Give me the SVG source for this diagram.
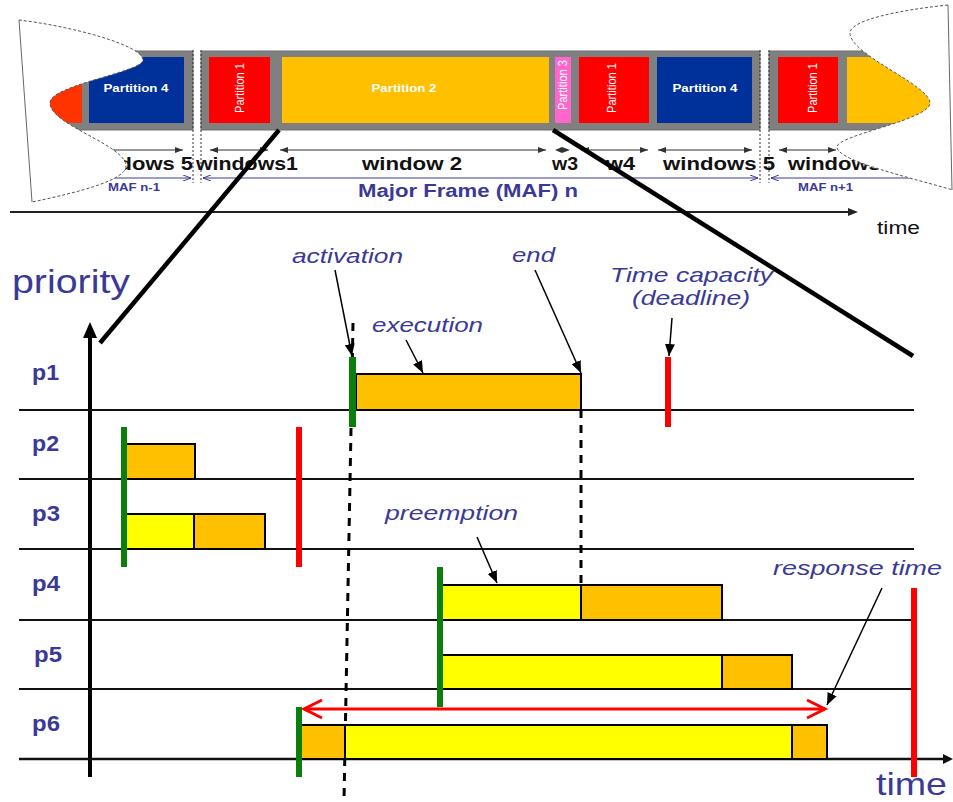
<svg xmlns="http://www.w3.org/2000/svg" width="953" height="802" viewBox="0 0 953 802">
<defs>
<style>
.gray{fill:#808080;stroke:#6e6e6e;stroke-width:1}
.plab{font-family:"Liberation Sans",Arial,sans-serif;font-weight:bold;font-size:11px;fill:#ffffff}
.plabr{font-family:"Liberation Sans",Arial,sans-serif;font-size:12px;fill:#ffffff}
.win{font-family:"Liberation Sans",Arial,sans-serif;font-weight:bold;font-size:19px;fill:#111111}
.maf{font-family:"Liberation Sans",Arial,sans-serif;font-weight:bold;fill:#3a3a96}
.warr{stroke:#333333;stroke-width:1.2;fill:none}
.marr{stroke:#3a3a96;stroke-width:1;fill:none}
.dot{stroke:#333333;stroke-width:1;stroke-dasharray:2,2}
.cut{fill:#ffffff;stroke:none}
.cutl{fill:none;stroke:#555555;stroke-width:1;stroke-dasharray:3,2}
.row{stroke:#111111;stroke-width:2}
.bar{stroke:#000000;stroke-width:2}
.or{fill:#FFC000}
.ye{fill:#FFFF00}
.gr{fill:#0a800a}
.rd{fill:#ff0000}
.pl{font-family:"Liberation Sans",Arial,sans-serif;font-weight:bold;font-size:22px;fill:#3a3a96}
.ann{font-family:"Liberation Sans",Arial,sans-serif;font-style:italic;font-size:21px;fill:#3a3a96}
.aarr{stroke:#000000;stroke-width:1.5;fill:none}
.dash{stroke:#000000;stroke-width:3;stroke-dasharray:8,7;fill:none}
.diag{stroke:#000000;stroke-width:4.5;fill:none}
</style>
<marker id="wh" markerWidth="8" markerHeight="6" refX="8" refY="3" orient="auto-start-reverse" markerUnits="userSpaceOnUse"><path d="M0,0 L8,3 L0,6 Z" fill="#333333"/></marker>
<marker id="mh" markerWidth="8" markerHeight="6" refX="8" refY="3" orient="auto-start-reverse" markerUnits="userSpaceOnUse"><path d="M0,0 L8,3 L0,6" fill="none" stroke="#3a3a96" stroke-width="1"/></marker>
<marker id="ah" markerWidth="12" markerHeight="10" refX="12" refY="5" orient="auto" markerUnits="userSpaceOnUse"><path d="M0,0 L12,5 L0,10 Z" fill="#000000"/></marker>
</defs>
<rect width="953" height="802" fill="#ffffff"/>

<g id="frame-band">
<rect class="gray" x="40" y="51" width="153" height="79"/>
<rect class="gray" x="201" y="51" width="559" height="79"/>
<rect class="gray" x="769" y="51" width="175" height="79"/>
</g>
<g id="part-prev-1"><rect x="40" y="57" width="42" height="66" fill="#ff3300"/></g>
<g id="part-prev-4"><rect x="89" y="57" width="95" height="66" fill="#00309a"/><text class="plab" x="136" y="92" text-anchor="middle" textLength="65" lengthAdjust="spacingAndGlyphs">Partition 4</text></g>
<g id="part-1a"><rect x="209" y="57" width="61" height="66" fill="#ff0000"/><text class="plabr" transform="translate(244,88) rotate(-90)" text-anchor="middle" textLength="50" lengthAdjust="spacingAndGlyphs">Partition 1</text></g>
<g id="part-2"><rect x="282" y="57" width="267" height="66" fill="#FFC000"/><text class="plab" x="404" y="92" text-anchor="middle" textLength="65" lengthAdjust="spacingAndGlyphs" fill="#fffbe0">Partition 2</text></g>
<g id="part-3"><rect x="555" y="57" width="16" height="66" fill="#ff66cc"/><text class="plabr" transform="translate(567,85) rotate(-90)" text-anchor="middle" textLength="50" lengthAdjust="spacingAndGlyphs">Partition 3</text></g>
<g id="part-1b"><rect x="579" y="57" width="70" height="66" fill="#ff0000"/><text class="plabr" transform="translate(616,88) rotate(-90)" text-anchor="middle" textLength="50" lengthAdjust="spacingAndGlyphs">Partition 1</text></g>
<g id="part-4"><rect x="657" y="57" width="95" height="66" fill="#00309a"/><text class="plab" x="705" y="92" text-anchor="middle" textLength="65" lengthAdjust="spacingAndGlyphs">Partition 4</text></g>
<g id="part-1c"><rect x="778" y="57" width="60" height="66" fill="#ff0000"/><text class="plabr" transform="translate(817,88) rotate(-90)" text-anchor="middle" textLength="50" lengthAdjust="spacingAndGlyphs">Partition 1</text></g>
<g id="part-next-2"><rect x="847" y="57" width="93" height="66" fill="#FFC000"/></g>

<g id="separators">
<line class="dot" x1="193" y1="50" x2="193" y2="183"/>
<line class="dot" x1="201" y1="50" x2="201" y2="183"/>
<line class="dot" x1="760" y1="50" x2="760" y2="183"/>
<line class="dot" x1="769" y1="50" x2="769" y2="183"/>
</g>

<g id="window-arrows">
<line class="warr" x1="100" y1="150" x2="183" y2="150" marker-end="url(#wh)"/>
<line class="warr" x1="210" y1="150" x2="268" y2="150" marker-start="url(#wh)" marker-end="url(#wh)"/>
<line class="warr" x1="280" y1="150" x2="546" y2="150" marker-start="url(#wh)" marker-end="url(#wh)"/>
<path d="M555,150 L562,147 L570,150 L562,153 Z" fill="#333333"/>
<line class="warr" x1="581" y1="150" x2="648" y2="150" marker-start="url(#wh)" marker-end="url(#wh)"/>
<line class="warr" x1="658" y1="150" x2="752" y2="150" marker-start="url(#wh)" marker-end="url(#wh)"/>
<line class="warr" x1="779" y1="150" x2="836" y2="150" marker-start="url(#wh)" marker-end="url(#wh)"/>
</g>
<g id="window-labels">
<text class="win" x="193" y="170" text-anchor="end" textLength="111" lengthAdjust="spacingAndGlyphs">windows 5</text>
<text class="win" x="196" y="170" textLength="102" lengthAdjust="spacingAndGlyphs">windows1</text>
<text class="win" x="362" y="170" textLength="100" lengthAdjust="spacingAndGlyphs">window 2</text>
<text class="win" x="552" y="170" textLength="26" lengthAdjust="spacingAndGlyphs">w3</text>
<text class="win" x="606" y="170" textLength="29" lengthAdjust="spacingAndGlyphs">w4</text>
<text class="win" x="663" y="170" textLength="112" lengthAdjust="spacingAndGlyphs">windows 5</text>
<text class="win" x="788" y="170" textLength="105" lengthAdjust="spacingAndGlyphs">windows1</text>
</g>
<g id="maf">
<line class="marr" x1="100" y1="178" x2="191" y2="178" marker-end="url(#mh)"/>
<line class="marr" x1="203" y1="178" x2="758" y2="178" marker-start="url(#mh)" marker-end="url(#mh)"/>
<line class="marr" x1="771" y1="178" x2="910" y2="178" marker-start="url(#mh)"/>
<text class="maf" x="108" y="191" font-size="10" textLength="52" lengthAdjust="spacingAndGlyphs">MAF n-1</text>
<text class="maf" x="358" y="197" font-size="18" textLength="220" lengthAdjust="spacingAndGlyphs">Major Frame (MAF) n</text>
<text class="maf" x="798" y="191" font-size="10" textLength="55" lengthAdjust="spacingAndGlyphs">MAF n+1</text>
</g>

<g id="cut-left">
<path class="cut" d="M19,20 C70,26 143,45 143,60 C143,72 50,85 50,103 C50,125 126,145 126,166 C126,180 80,192 32,202 Z"/>
<path class="cutl" d="M19,20 C70,26 143,45 143,60 C143,72 50,85 50,103 C50,125 126,145 126,166 C126,180 80,192 32,202"/>
<line x1="19" y1="20" x2="32" y2="202" stroke="#666666" stroke-width="1"/>
</g>
<g id="cut-right">
<path class="cut" d="M948,5 C900,10 850,20 850,33 C850,55 930,85 930,103 C930,120 837,135 837,147 C837,160 900,175 953,190 L953,5 Z"/>
<path class="cutl" d="M948,5 C900,10 850,20 850,33 C850,55 930,85 930,103 C930,120 837,135 837,147 C837,160 900,175 953,190"/>
<line x1="948" y1="5" x2="952" y2="190" stroke="#666666" stroke-width="1"/>
</g>

<g id="time-axis-top">
<line x1="10" y1="212" x2="850" y2="212" stroke="#222222" stroke-width="2"/>
<path d="M858,212 L848,208 L848,216 Z" fill="#222222"/>
<text x="877" y="234" font-family="Liberation Sans,Arial,sans-serif" font-size="18" fill="#111111" textLength="43" lengthAdjust="spacingAndGlyphs">time</text>
</g>

<g id="connectors">
<line class="diag" x1="279" y1="130" x2="100" y2="343"/>
<line class="diag" x1="553" y1="130" x2="913" y2="356"/>
</g>

<g id="priority-axis">
<text x="12" y="293" font-family="Liberation Sans,Arial,sans-serif" font-size="34" fill="#3a3a96" textLength="118" lengthAdjust="spacingAndGlyphs">priority</text>
<line x1="90" y1="334" x2="90" y2="777" stroke="#000000" stroke-width="4"/>
<path d="M90,322 L83,338 L97,338 Z" fill="#000000"/>
</g>

<g id="rows">
<line class="row" x1="19" y1="410" x2="914" y2="410"/>
<line class="row" x1="19" y1="479" x2="914" y2="479"/>
<line class="row" x1="19" y1="549" x2="914" y2="549"/>
<line class="row" x1="19" y1="620" x2="914" y2="620"/>
<line class="row" x1="19" y1="689" x2="914" y2="689"/>
<line x1="19" y1="759" x2="945" y2="759" stroke="#111111" stroke-width="2.5"/>
<path d="M953,759 L943,754 L943,764 Z" fill="#111111"/>
<text class="pl" x="32" y="380" textLength="27" lengthAdjust="spacingAndGlyphs">p1</text>
<text class="pl" x="32" y="451" textLength="27" lengthAdjust="spacingAndGlyphs">p2</text>
<text class="pl" x="32" y="521" textLength="28" lengthAdjust="spacingAndGlyphs">p3</text>
<text class="pl" x="32" y="591" textLength="28" lengthAdjust="spacingAndGlyphs">p4</text>
<text class="pl" x="34" y="662" textLength="28" lengthAdjust="spacingAndGlyphs">p5</text>
<text class="pl" x="32" y="731" textLength="28" lengthAdjust="spacingAndGlyphs">p6</text>
<text x="876" y="795" font-family="Liberation Sans,Arial,sans-serif" font-size="32" fill="#3a3a96" textLength="71" lengthAdjust="spacingAndGlyphs">time</text>
</g>

<g id="dashed-guides">
<line class="dash" x1="353" y1="323" x2="344" y2="800"/>
<line class="dash" x1="581" y1="410" x2="581" y2="585"/>
</g>

<g id="task-p1"><rect class="bar or" x="356" y="374" width="225" height="36"/></g>
<g id="task-p2"><rect class="bar or" x="126" y="444" width="69" height="35"/></g>
<g id="task-p3"><rect class="bar ye" x="126" y="514" width="68" height="35"/><rect class="bar or" x="194" y="514" width="71" height="35"/></g>
<g id="task-p4"><rect class="bar ye" x="442" y="585" width="139" height="35"/><rect class="bar or" x="581" y="585" width="141" height="35"/></g>
<g id="task-p5"><rect class="bar ye" x="442" y="655" width="280" height="34"/><rect class="bar or" x="722" y="655" width="70" height="34"/></g>
<g id="task-p6"><rect class="bar or" x="301" y="725" width="44" height="34"/><rect class="bar ye" x="345" y="725" width="447" height="34"/><rect class="bar or" x="792" y="725" width="35" height="34"/></g>

<g id="activations">
<rect class="gr" x="349" y="357" width="7" height="70"/>
<rect class="gr" x="121" y="427" width="6" height="140"/>
<rect class="gr" x="437" y="567" width="6" height="140"/>
<rect class="gr" x="296" y="707" width="6" height="70"/>
</g>
<g id="deadlines">
<rect class="rd" x="665" y="357" width="6" height="70"/>
<rect class="rd" x="296" y="427" width="6" height="140"/>
<rect class="rd" x="911" y="588" width="6" height="189"/>
</g>

<g id="response-arrow">
<line x1="304" y1="709" x2="825" y2="709" stroke="#ff0000" stroke-width="3"/>
<polyline points="322,700 304,709 322,718" fill="none" stroke="#ff0000" stroke-width="3"/>
<polyline points="807,700 825,709 807,718" fill="none" stroke="#ff0000" stroke-width="3"/>
</g>

<g id="annotations">
<text class="ann" x="292" y="263" textLength="111" lengthAdjust="spacingAndGlyphs">activation</text>
<text class="ann" x="372" y="332" textLength="111" lengthAdjust="spacingAndGlyphs">execution</text>
<text class="ann" x="512" y="262" textLength="43" lengthAdjust="spacingAndGlyphs">end</text>
<text class="ann" x="610" y="282" textLength="163" lengthAdjust="spacingAndGlyphs">Time capacity</text>
<text class="ann" x="632" y="305" textLength="118" lengthAdjust="spacingAndGlyphs">(deadline)</text>
<text class="ann" x="385" y="520" textLength="133" lengthAdjust="spacingAndGlyphs">preemption</text>
<text class="ann" x="773" y="575" textLength="169" lengthAdjust="spacingAndGlyphs">response time</text>
<line class="aarr" x1="335" y1="270" x2="352" y2="356" marker-end="url(#ah)"/>
<line class="aarr" x1="406" y1="340" x2="423" y2="373" marker-end="url(#ah)"/>
<line class="aarr" x1="535" y1="270" x2="581" y2="373" marker-end="url(#ah)"/>
<line class="aarr" x1="672" y1="318" x2="669" y2="356" marker-end="url(#ah)"/>
<line class="aarr" x1="477" y1="537" x2="497" y2="583" marker-end="url(#ah)"/>
<line class="aarr" x1="882" y1="588" x2="827" y2="705" marker-end="url(#ah)"/>
</g>
</svg>
